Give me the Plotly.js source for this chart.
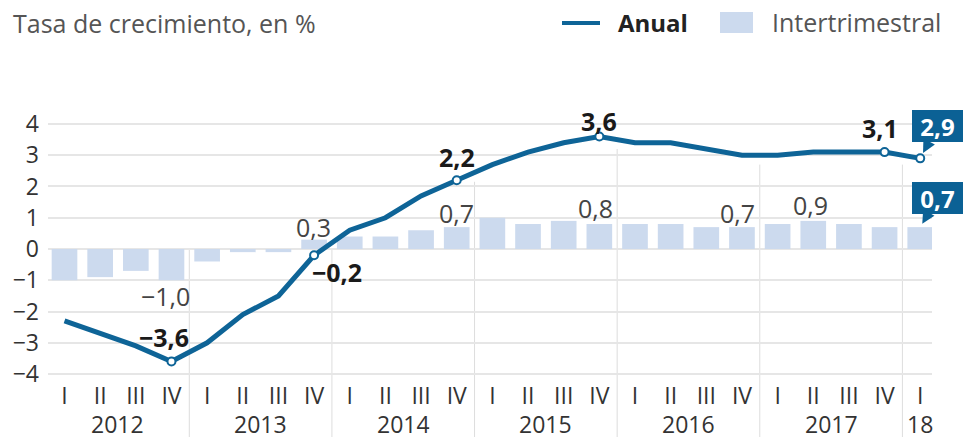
<!DOCTYPE html>
<html>
<head>
<meta charset="utf-8">
<script src="https://cdn.plot.ly/plotly-3.0.1.min.js"></script>
<style>html,body{margin:0;padding:0;background:#fff}#chart{width:964px;height:439px}</style>
</head>
<body>
<div id="chart"></div>
<script>
// ---- data ----
const quarters = ['I','II','III','IV','I','II','III','IV','I','II','III','IV','I','II','III','IV','I','II','III','IV','I','II','III','IV','I'];
const years = ['2012','2013','2014','2015','2016','2017','18'];
const anual = [-2.3,-2.7,-3.1,-3.6,-3.0,-2.1,-1.5,-0.2,0.6,1.0,1.7,2.2,2.7,3.1,3.4,3.6,3.4,3.4,3.2,3.0,3.0,3.1,3.1,3.1,2.9];
const inter = [-1.0,-0.9,-0.7,-1.0,-0.4,-0.1,-0.1,0.3,0.4,0.4,0.6,0.7,1.0,0.8,0.9,0.8,0.8,0.8,0.7,0.7,0.8,0.9,0.8,0.7,0.7];
const anualLabelIdx = [3,7,11,15,23];
const interLabelIdx = [3,7,11,15,19,21];
const seriesNames = ['Anual','Intertrimestral'];

// ---- styling ----
const FONT = '"Open Sans", "DejaVu Sans", sans-serif';
const lineColor = '#0e6497';
const boxColor = '#0b6195';
const barColor = '#ccdaee';
const gridColor = '#e6e6e6';
const W = 964, H = 439;
const M = {l:48, r:32, t:116, b:59};
const pw = W - M.l - M.r, ph = H - M.t - M.b;
const yRange = [-4.191, 4.255];
const xRange = [-0.463, 24.33];
const px2paperX = px => (px - M.l) / pw;
const py2paperY = py => (H - M.b - py) / ph;
const val2paperY = v => (v - yRange[0]) / (yRange[1] - yRange[0]);
const fmt = v => v.toFixed(1).replace('.', ',').replace('-', '\u2212');

const idx = quarters.map((q, i) => i);

// year groups: a new year begins with quarter 'I'
const groups = [];
quarters.forEach((q, i) => { if (q === 'I') groups.push([i]); else groups[groups.length-1].push(i); });

const markIdx = anualLabelIdx.concat([anual.length-1]);
const traces = [
  {type:'bar', x: idx, y: inter, name: seriesNames[1], marker:{color: barColor}, hoverinfo:'skip', showlegend:false},
  {type:'scatter', mode:'lines', x: idx, y: anual, name: seriesNames[0], line:{color: lineColor, width:5}, hoverinfo:'skip', showlegend:false, cliponaxis:false},
  {type:'scatter', mode:'markers', x: markIdx, y: markIdx.map(i => anual[i]),
   marker:{color:'#ffffff', size:8, line:{color: lineColor, width:2}}, hoverinfo:'skip', showlegend:false, cliponaxis:false}
];

const annotations = [];
// bold labels on the annual line
const anualShift = {3:[-7,25], 7:[23,-17], 11:[0,23], 15:[0,15], 23:[-5,24]};
anualLabelIdx.forEach(i => {
  annotations.push({x:i, y:anual[i], xref:'x', yref:'y', text:'<b>'+fmt(anual[i])+'</b>', showarrow:false,
    xanchor:'center', yanchor:'middle', xshift:anualShift[i][0], yshift:anualShift[i][1],
    font:{family:FONT, size:25, color:'#1a1a1a'}});
});
// regular labels on bars
const interShift = {3:[-6,-16], 7:[-1,13], 11:[0,14], 15:[-4,16], 19:[-4,14], 21:[-3,16]};
interLabelIdx.forEach(i => {
  annotations.push({x:i, y:inter[i], xref:'x', yref:'y', text:fmt(inter[i]), showarrow:false,
    xanchor:'center', yanchor:'middle', xshift:interShift[i][0], yshift:interShift[i][1],
    font:{family:FONT, size:25, color:'#444444'}});
});
// boxed labels for the last quarter
const last = anual.length - 1;
[[anual[last], -32, 6], [inter[last], -29, 4]].forEach(([v, ay, so]) => {
  annotations.push({x:last, y:v, xref:'x', yref:'y', text:'<b>'+fmt(v)+'</b>', showarrow:true,
    ax:17, ay:ay, arrowhead:2, arrowsize:1.3, arrowwidth:2, arrowcolor:boxColor, standoff:so,
    bgcolor:boxColor, bordercolor:boxColor, borderwidth:0, borderpad:2, width:47, height:28,
    font:{family:FONT, size:24, color:'#ffffff'}});
});
// year labels
groups.forEach((g, k) => {
  const c = (g[0] + g[g.length-1]) / 2;
  annotations.push({x:c, y:0, xref:'x', yref:'paper', text:years[k], showarrow:false, height:22,
    xanchor:'center', yanchor:'middle', yshift:-44, font:{family:FONT, size:23, color:'#333333'}});
});
// legend texts
annotations.push({x:px2paperX(616), y:py2paperY(22), xref:'paper', yref:'paper', text:'<b>'+seriesNames[0]+'</b>', showarrow:false,
  xanchor:'left', yanchor:'middle', font:{family:FONT, size:24, color:'#222222'}});
annotations.push({x:px2paperX(770), y:py2paperY(22), xref:'paper', yref:'paper', text:seriesNames[1], showarrow:false,
  xanchor:'left', yanchor:'middle', font:{family:FONT, size:25, color:'#555555'}});

const shapes = [];
// year separators
groups.slice(1).forEach(g => {
  const b = g[0] - 0.5;
  const top = Math.max((anual[g[0]-1] + anual[g[0]]) / 2 - 0.3, 0);
  shapes.push({type:'line', xref:'x', yref:'paper', x0:b, x1:b, y0:val2paperY(top), y1:py2paperY(437),
    line:{color:'#dddddd', width:1}, layer:'below'});
});
// legend symbols
shapes.push({type:'line', xref:'paper', yref:'paper', x0:px2paperX(562), x1:px2paperX(600), y0:py2paperY(23), y1:py2paperY(23),
  line:{color:lineColor, width:4}});
shapes.push({type:'rect', xref:'paper', yref:'paper', x0:px2paperX(720), x1:px2paperX(753), y0:py2paperY(33), y1:py2paperY(12),
  fillcolor:barColor, line:{width:0}});

const layout = {
  width:W, height:H, margin:M, paper_bgcolor:'#ffffff', plot_bgcolor:'#ffffff',
  title:{text:'Tasa de crecimiento, en %', x:13/W, xanchor:'left', xref:'container', y:1-24/H, yanchor:'middle', yref:'container',
    font:{family:FONT, size:25, color:'#555555'}},
  showlegend:false,
  bargap:0.28,
  xaxis:{range:xRange, tickvals:idx, ticktext:quarters, showgrid:false, zeroline:false, showline:false, ticks:'',
    tickfont:{family:FONT, size:23, color:'#333333'}, fixedrange:true},
  yaxis:{range:yRange, dtick:1, tick0:0, showgrid:true, gridcolor:gridColor, gridwidth:2, zeroline:true, zerolinecolor:gridColor, zerolinewidth:2,
    showline:false, ticks:'', ticklabelstandoff:8, tickfont:{family:FONT, size:23, color:'#333333'}, fixedrange:true},
  annotations:annotations, shapes:shapes
};

Plotly.newPlot('chart', traces, layout, {displayModeBar:false, staticPlot:true});
</script>
</body>
</html>
